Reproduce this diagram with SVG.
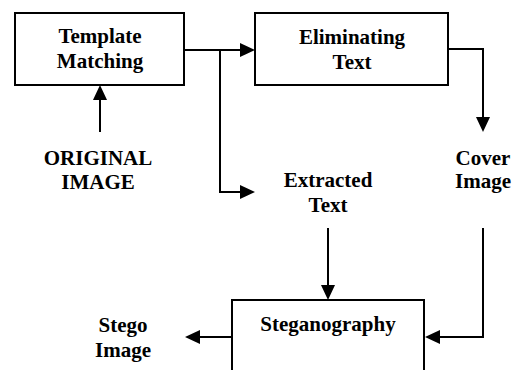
<svg xmlns="http://www.w3.org/2000/svg" width="515" height="370" viewBox="0 0 515 370">
  <defs>
    <style>
      .box { fill: #ffffff; stroke: #000000; stroke-width: 2; }
      .lbl { font-family: "Liberation Serif", "Times New Roman", serif; font-weight: bold; font-size: 21px; fill: #000000; text-anchor: middle; }
      .conn { fill: none; stroke: #000000; stroke-width: 2; marker-end: url(#arrow); }
    </style>
    <marker id="arrow" markerUnits="userSpaceOnUse" markerWidth="16" markerHeight="16" refX="0" refY="7" orient="auto">
      <path d="M0,0 L15,7 L0,14 Z" fill="#000000"/>
    </marker>
  </defs>
  <rect width="515" height="370" fill="#ffffff"/>

  <g id="connectors">
    <path class="conn" d="M184,50 H240"/>
    <path class="conn" d="M220,50 V192 H240"/>
    <path class="conn" d="M100,132 V100"/>
    <path class="conn" d="M448,49 H483 V117"/>
    <path class="conn" d="M328,228 V285"/>
    <path class="conn" d="M483,228 V337 H440"/>
    <path class="conn" d="M232,337 H200"/>
  </g>

  <g id="template-matching">
    <rect class="box" x="15" y="13" width="169" height="72"/>
    <text class="lbl" x="100" y="43">Template</text>
    <text class="lbl" x="100" y="68">Matching</text>
  </g>

  <g id="eliminating-text">
    <rect class="box" x="255" y="13" width="193" height="72"/>
    <text class="lbl" x="352" y="44">Eliminating</text>
    <text class="lbl" x="352" y="69">Text</text>
  </g>

  <g id="original-image">
    <text class="lbl" x="98" y="165">ORIGINAL</text>
    <text class="lbl" x="98" y="189">IMAGE</text>
  </g>

  <g id="extracted-text">
    <text class="lbl" x="328" y="187">Extracted</text>
    <text class="lbl" x="328" y="212">Text</text>
  </g>

  <g id="cover-image">
    <text class="lbl" x="483" y="165">Cover</text>
    <text class="lbl" x="483" y="188">Image</text>
  </g>

  <g id="steganography">
    <rect class="box" x="232" y="300" width="192" height="82"/>
    <text class="lbl" x="328" y="331">Steganography</text>
  </g>

  <g id="stego-image">
    <text class="lbl" x="123" y="332">Stego</text>
    <text class="lbl" x="123" y="357">Image</text>
  </g>
</svg>
